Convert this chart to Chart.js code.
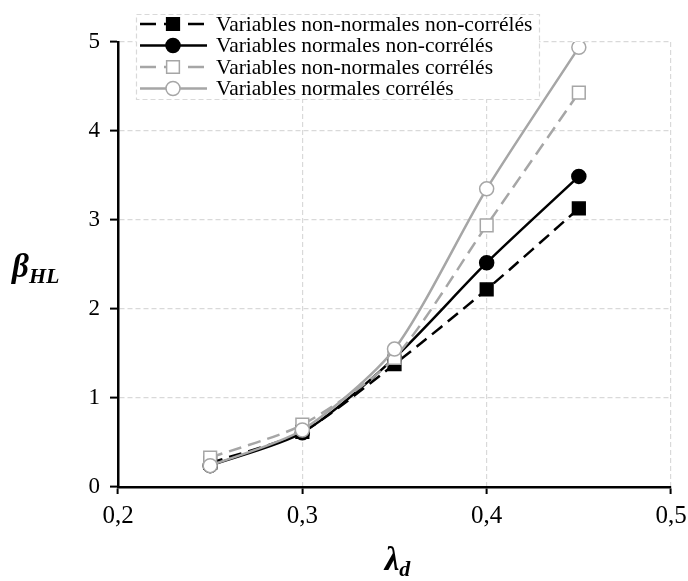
<!DOCTYPE html>
<html>
<head>
<meta charset="utf-8">
<script src="https://cdn.jsdelivr.net/npm/chart.js@4.4.0/dist/chart.umd.min.js"></script>
<style>
  html, body { margin: 0; padding: 0; background: #fff; }
  #wrap { width: 688px; height: 581px; position: relative; }
</style>
</head>
<body>
<div id="wrap"><canvas id="chart"></canvas></div>
<script>
// données
const lambdaD = [0.25, 0.30, 0.35, 0.40, 0.45];
const nonNormNonCorr = [0.27, 0.62, 1.38, 2.22, 3.13];
const normNonCorr = [0.24, 0.61, 1.45, 2.52, 3.49];
const nonNormCorr = [0.33, 0.70, 1.45, 2.94, 4.43];
const normCorr = [0.24, 0.64, 1.55, 3.35, 4.94];
const xTicks = [0.2, 0.3, 0.4, 0.5];
const yTicks = [0, 1, 2, 3, 4, 5];
const seriesNames = [
    "Variables non-normales non-corrélés",
    "Variables normales non-corrélés",
    "Variables non-normales corrélés",
    "Variables normales corrélés"
];

const FONT = "'Liberation Serif', 'Times New Roman', serif";
const GREY = "#a6a6a6";

function pts(values) {
    return values.map((v, i) => ({ x: lambdaD[i], y: v }));
}

const datasets = [
    { label: seriesNames[0], data: pts(nonNormNonCorr), borderColor: "#000", borderDash: [13, 7],
      pointStyle: "rect", pointRadius: 9, pointBackgroundColor: "#000", pointBorderColor: "#000", order: 4 },
    { label: seriesNames[1], data: pts(normNonCorr), borderColor: "#000", borderDash: [],
      pointStyle: "circle", pointRadius: 7, pointBackgroundColor: "#000", pointBorderColor: "#000", order: 3 },
    { label: seriesNames[2], data: pts(nonNormCorr), borderColor: GREY, borderDash: [13, 7],
      pointStyle: "rect", pointRadius: 9, pointBackgroundColor: "#fff", pointBorderColor: GREY, order: 2 },
    { label: seriesNames[3], data: pts(normCorr), borderColor: GREY, borderDash: [],
      pointStyle: "circle", pointRadius: 7, pointBackgroundColor: "#fff", pointBorderColor: GREY, order: 1 }
];
datasets.forEach(d => {
    d.borderWidth = 2.5;
    d.pointBorderWidth = 1.5;
    d.tension = 0.25;
    d.fill = false;
});

// légende encadrée + titres des axes (avec indices)
const extras = {
    id: "extras",
    afterDraw(chart) {
        const ctx = chart.ctx;
        const area = chart.chartArea;
        ctx.save();

        // boîte de légende
        const bx = 136, by = 14, bw = 403, bh = 85;
        ctx.fillStyle = "#fff";
        ctx.fillRect(bx, by, bw, bh);
        ctx.strokeStyle = "#d9d9d9";
        ctx.lineWidth = 1.2;
        ctx.setLineDash([5, 3]);
        ctx.strokeRect(bx + 0.5, by + 0.5, bw, bh);

        const rows = [24, 45.5, 67, 88.5];
        datasets.forEach((d, i) => {
            const y = rows[i];
            ctx.setLineDash(d.borderDash.length ? [16, 8] : []);
            ctx.strokeStyle = d.borderColor;
            ctx.lineWidth = 2.5;
            ctx.beginPath();
            ctx.moveTo(140, y);
            ctx.lineTo(207, y);
            ctx.stroke();
            ctx.setLineDash([]);
            ctx.fillStyle = d.pointBackgroundColor;
            ctx.strokeStyle = d.pointBorderColor;
            ctx.lineWidth = d.pointBorderWidth;
            ctx.beginPath();
            if (d.pointStyle === "rect") {
                const s = d.pointRadius * Math.SQRT1_2;
                ctx.rect(173 - s, y - s, 2 * s, 2 * s);
            } else {
                ctx.arc(173, y, d.pointRadius, 0, Math.PI * 2);
            }
            ctx.fill();
            ctx.stroke();

            ctx.fillStyle = "#000";
            ctx.font = "21.5px " + FONT;
            ctx.textBaseline = "middle";
            ctx.textAlign = "left";
            ctx.fillText(d.label, 216, y + 1);
        });

        // titre axe Y : beta_HL
        ctx.fillStyle = "#000";
        ctx.textBaseline = "alphabetic";
        ctx.textAlign = "left";
        ctx.font = "italic bold 33px " + FONT;
        ctx.fillText("\u03B2", 12, 277);
        const bW = ctx.measureText("\u03B2").width;
        ctx.font = "italic bold 22px " + FONT;
        ctx.fillText("HL", 12 + bW, 283);

        // titre axe X : lambda_d
        ctx.font = "italic bold 33px " + FONT;
        const lW = ctx.measureText("\u03BB").width;
        ctx.font = "italic bold 22px " + FONT;
        const dW = ctx.measureText("d").width;
        const cx = (area.left + area.right) / 2 + 3;
        const x0 = cx - (lW + dW) / 2;
        ctx.font = "italic bold 33px " + FONT;
        ctx.fillText("\u03BB", x0, 570);
        ctx.font = "italic bold 22px " + FONT;
        ctx.fillText("d", x0 + lW, 576);

        ctx.restore();
    }
};

new Chart(document.getElementById("chart"), {
    type: "line",
    data: { datasets },
    plugins: [extras],
    options: {
        responsive: true,
        maintainAspectRatio: false,
        animation: false,
        layout: { padding: { top: 42, right: 17, left: 0, bottom: 0 } },
        plugins: { legend: { display: false }, tooltip: { enabled: false } },
        scales: {
            x: {
                type: "linear",
                min: 0.2, max: 0.5,
                afterBuildTicks: s => { s.ticks = xTicks.map(v => ({ value: v })); },
                afterFit: s => { s.height = 94; s.paddingLeft = 0; s.paddingRight = 0; },
                ticks: {
                    color: "#000",
                    font: { family: FONT, size: 25 },
                    padding: 7,
                    callback: v => v.toFixed(1).replace(".", ",")
                },
                grid: { color: "#d9d9d9", lineWidth: 1.2, tickColor: "#000", tickWidth: 2, tickLength: 7 },
                border: { color: "#000", width: 2.5, dash: [5, 3] }
            },
            y: {
                min: 0, max: 5,
                afterBuildTicks: s => { s.ticks = yTicks.map(v => ({ value: v })); },
                afterFit: s => { s.width = 118; s.paddingTop = 0; s.paddingBottom = 0; },
                ticks: {
                    color: "#000",
                    font: { family: FONT, size: 23 },
                    padding: 10
                },
                grid: { color: "#d9d9d9", lineWidth: 1.2, tickColor: "#000", tickWidth: 2, tickLength: 8 },
                border: { color: "#000", width: 2.5, dash: [5, 3] }
            }
        }
    }
});
</script>
</body>
</html>
